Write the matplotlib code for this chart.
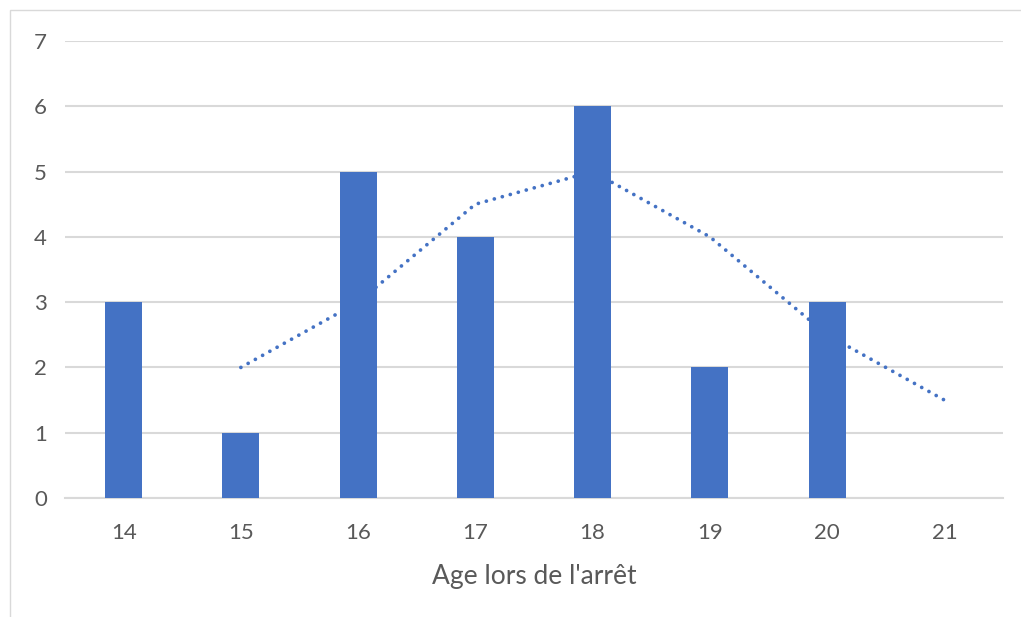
import matplotlib.pyplot as plt
from matplotlib.patches import Rectangle

# data
ages = ['14', '15', '16', '17', '18', '19', '20', '21']
counts = [3, 1, 5, 4, 6, 2, 3, 0]
# moving average trend line (starts at 15)
trend_x = [1, 2, 3, 4, 5, 6, 7]
trend_y = [2, 3, 4.5, 5, 4, 2.5, 1.5]

plt.rcParams['font.family'] = ['Lato', 'DejaVu Sans']

fig = plt.figure(figsize=(10.21, 6.17), dpi=100)
fig.patches.append(Rectangle((10 / 1021, -0.1), 1.2, 1 - 10 / 617 + 0.1,
                             transform=fig.transFigure, fill=False,
                             edgecolor='#d9d9d9', linewidth=1))
ax = fig.add_axes([65 / 1021, 1 - 498 / 617, 938 / 1021, 457 / 617])

x = range(len(ages))
ax.bar(x, counts, width=0.315, color='#4472C4', zorder=3)
ax.plot(trend_x, trend_y, linestyle=(0, (0.01, 2.2)), dash_capstyle='round',
        color='#4472C4', linewidth=2.7, zorder=4)

ax.set_xlim(-0.5, 7.5)
ax.set_ylim(0, 7)
ax.set_yticks(range(8))
ax.set_xticks(list(x))
ax.set_xticklabels(ages)
ax.grid(axis='y', color='#d9d9d9', linewidth=1.5, zorder=0)
for s in ['top', 'right', 'left']:
    ax.spines[s].set_visible(False)
ax.spines['bottom'].set_color('#d9d9d9')
ax.spines['bottom'].set_linewidth(1.5)
ax.tick_params(length=0, labelsize=16, colors='#595959')
ax.tick_params(axis='y', pad=13)
ax.tick_params(axis='x', pad=18)
ax.set_xlabel("Age lors de l'arrêt", fontsize=19, color='#595959', labelpad=15)

fig.savefig('out.png')
